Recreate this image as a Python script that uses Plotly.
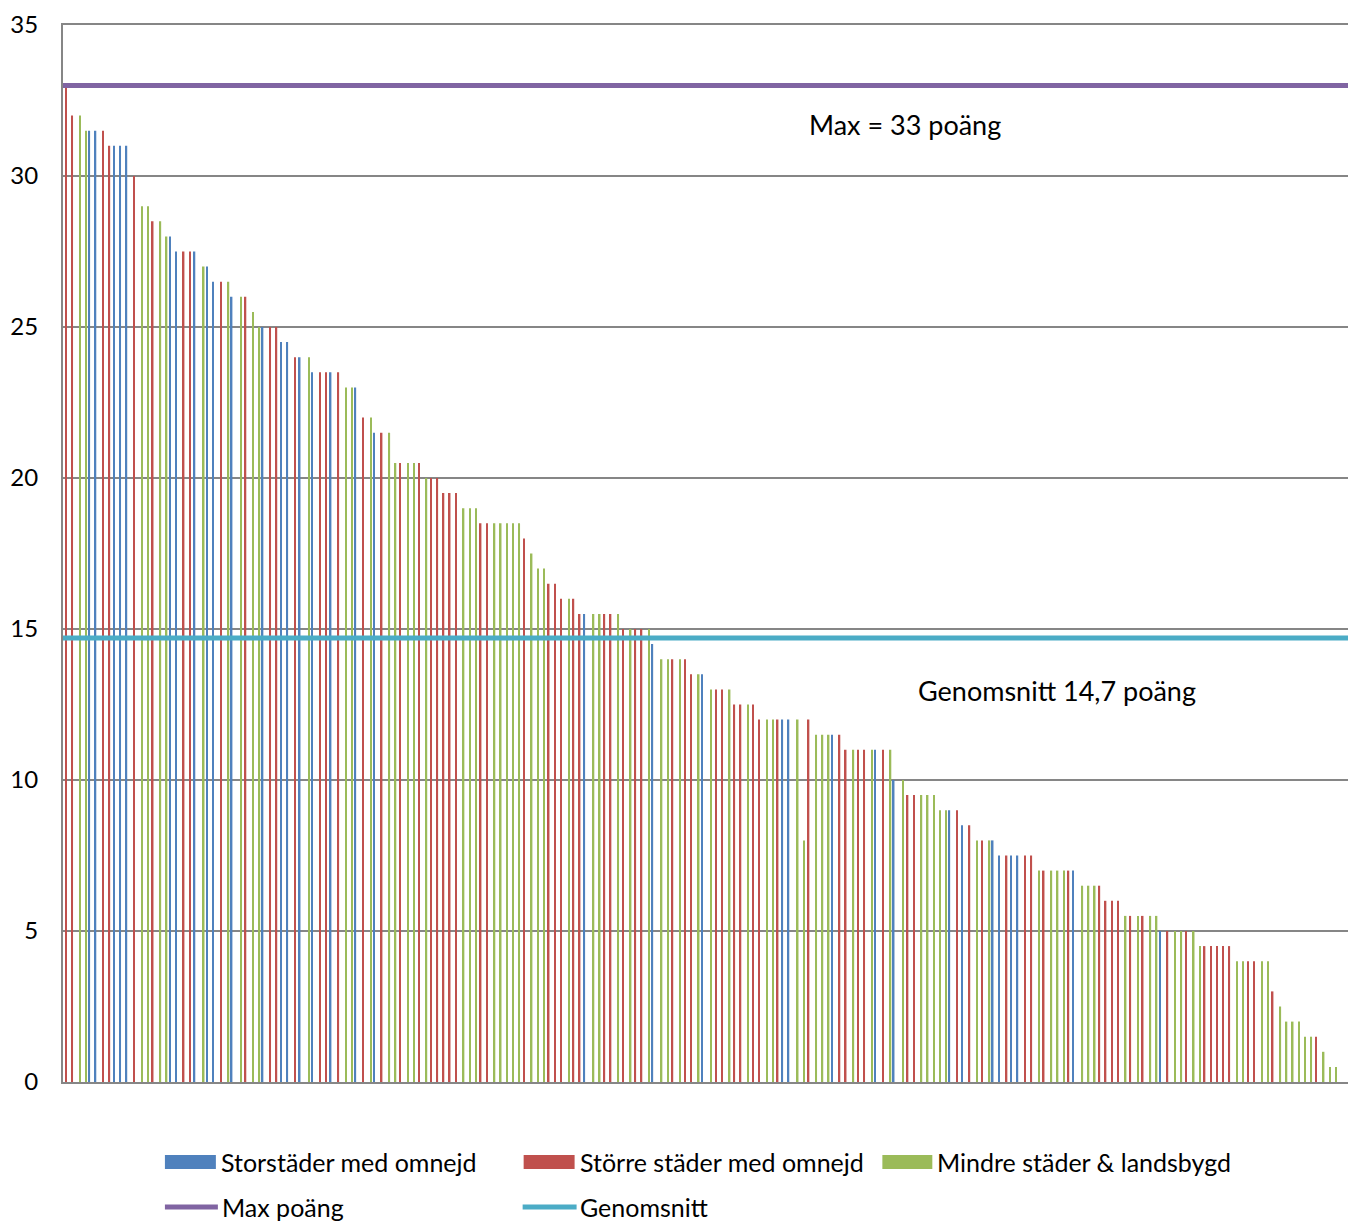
import plotly.graph_objects as go

# poäng per kommun, sorted as in the chart (two empty categories at the end)
points = [33, 32, 32, 31.5, 31.5, 31.5, 31.5, 31, 31, 31, 31, 30, 29, 29, 28.5, 28.5, 28, 28,
          27.5, 27.5, 27.5, 27.5, 27, 27, 26.5, 26.5, 26.5, 26, 26, 26, 25.5, 25, 25, 25, 25,
          24.5, 24.5, 24, 24, 24, 23.5, 23.5, 23.5, 23.5, 23.5, 23, 23, 23, 22, 22, 21.5, 21.5, 21.5,
          20.5, 20.5, 20.5, 20.5, 20.5, 20, 20, 20, 19.5, 19.5, 19.5, 19, 19, 19, 18.5, 18.5, 18.5,
          18.5, 18.5, 18.5, 18.5, 18, 17.5, 17, 17, 16.5, 16.5, 16, 16, 16, 15.5, 15.5, 15.5, 15.5, 15.5,
          15.5, 15.5, 15, 15, 15, 15, 15, 14.5, 14, 14, 14, 14, 14, 13.5, 13.5, 13.5, 13, 13,
          13, 13, 12.5, 12.5, 12.5, 12.5, 12, 12, 12, 12, 12, 12, 12, 8, 12, 11.5, 11.5, 11.5,
          11.5, 11.5, 11, 11, 11, 11, 11, 11, 11, 11, 10, 10, 9.5, 9.5, 9.5, 9.5, 9.5,
          9, 9, 9, 9, 8.5, 8.5, 8, 8, 8, 8, 7.5, 7.5, 7.5, 7.5, 7.5, 7.5, 7, 7,
          7, 7, 7, 7, 7, 6.5, 6.5, 6.5, 6.5, 6, 6, 6, 5.5, 5.5, 5.5, 5.5, 5.5, 5.5,
          5, 5, 5, 5, 5, 5, 4.5, 4.5, 4.5, 4.5, 4.5, 4.5, 4, 4, 4, 4, 4, 4,
          3, 2.5, 2, 2, 2, 1.5, 1.5, 1.5, 1, 0.5, 0.5, 0, 0]

# B = storstäder, R = större städer, G = mindre städer
groups = ("RRGGBBRRBBBRGGRGGB"
          "BRRBGBBRGBGRGGBRR"
          "BBRBGBRRBRGGBRGBRG"
          "GRGGRGRRRRRGGGRRG"
          "GGGGRGGGRRRGRRBGGR"
          "RGRGRRGBGGRGRRGBGR"
          "RGRRGRRGGRBBGGRGGG"
          "BRRGRRGBRGBGRRGGG"
          "GGBRBRGRGBBRBBRRGR"
          "GGGRBGGGRRRRGRGRGG"
          "BRGGRGGRRRRRGGRRGG"
          "RGGGGGGRGGG"
          "GG")

categories = list(range(1, len(points) + 1))

series = [("B", "Storstäder med omnejd", "#4F81BD"),
          ("R", "Större städer med omnejd", "#C0504D"),
          ("G", "Mindre städer & landsbygd", "#9BBB59")]

max_points = 33
average = 14.7

font = "Lato, Calibri, sans-serif"

fig = go.Figure()
for code, name, color in series:
    y = [v if g == code else None for v, g in zip(points, groups)]
    fig.add_trace(go.Bar(x=categories, y=y, name=name, marker_color=color,
                         marker_line_width=0))

x_span = [categories[0] - 0.5, categories[-1] + 0.5]
fig.add_trace(go.Scatter(x=x_span, y=[max_points] * 2, mode="lines", name="Max poäng",
                         line=dict(color="#8064A2", width=5)))
fig.add_trace(go.Scatter(x=x_span, y=[average] * 2, mode="lines", name="Genomsnitt",
                         line=dict(color="#4BACC6", width=5)))

fig.add_annotation(x=0.654, xref="paper", xanchor="center", y=31.7, text="Max = 33 poäng",
                   showarrow=False, font=dict(size=27, color="black", family=font))
fig.add_annotation(x=0.772, xref="paper", xanchor="center", y=12.95, text="Genomsnitt 14,7 poäng",
                   showarrow=False, font=dict(size=27, color="black", family=font))

# legend drawn by hand, two rows like the original (pixel -> paper helpers)
PL, PW, PB, PH = 62, 1288, 1082, 1057


def px(x):
    return (x - PL) / PW


def py(y):
    return (PB - y) / PH


legend_rows = [
    [("rect", 164, 215, 218, 0), ("rect", 523, 574, 577, 1), ("rect", 882, 932, 935, 2)],
    [("line", 164, 217, 219, 3), ("line", 522, 576, 577, 4)],
]
row_y = [1162, 1207]
for row, yc in zip(legend_rows, row_y):
    for kind, x0, x1, xt, idx in row:
        tr = fig.data[idx]
        if kind == "rect":
            fig.add_shape(type="rect", xref="paper", yref="paper",
                          x0=px(x0), x1=px(x1), y0=py(yc - 7), y1=py(yc + 7),
                          fillcolor=tr.marker.color, line_width=0)
        else:
            fig.add_shape(type="line", xref="paper", yref="paper",
                          x0=px(x0), x1=px(x1), y0=py(yc), y1=py(yc),
                          line=dict(color=tr.line.color, width=5))
        fig.add_annotation(x=px(xt), y=py(yc), xref="paper", yref="paper",
                           xanchor="left", yanchor="middle", text=tr.name,
                           showarrow=False, font=dict(size=25, color="black", family=font))

# page body has an 8px margin, so the figure is shifted by that much
fig.update_layout(
    width=1348, height=1214,
    margin=dict(l=55, r=6, t=17, b=140),
    plot_bgcolor="white", paper_bgcolor="white",
    barmode="group", bargap=0.27, bargroupgap=0,
    font=dict(family=font, size=24, color="black"),
    showlegend=False,
)
fig.update_xaxes(range=x_span, showticklabels=False, showgrid=False, automargin=False,
                 showline=True, mirror=True, linecolor="#868686", linewidth=2, zeroline=False)
fig.update_yaxes(range=[0, 35], dtick=5, showgrid=True, gridcolor="#868686", gridwidth=1.5,
                 showline=True, linecolor="#868686", linewidth=2, zeroline=False,
                 automargin=False, ticklabelstandoff=18, tickfont=dict(size=24))

fig.write_html("out.html")
